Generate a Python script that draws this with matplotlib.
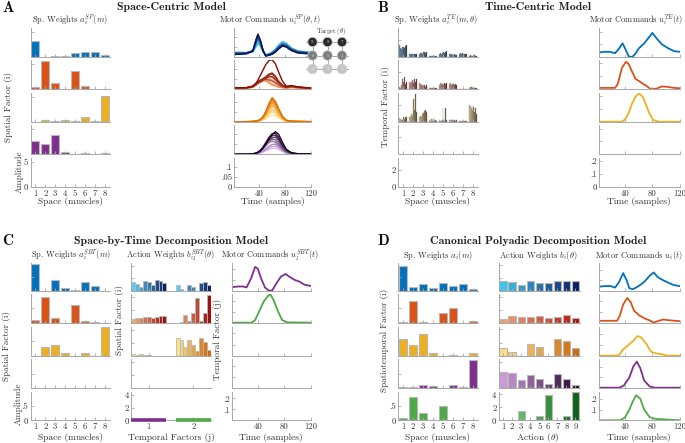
import numpy as np
import matplotlib
matplotlib.use('Agg')
import matplotlib.pyplot as plt
from matplotlib.colors import to_rgb
from matplotlib.patches import Circle

# ---------------- data ----------------
muscles = [1, 2, 3, 4, 5, 6, 7, 8]
actions = [1, 2, 3, 4, 5, 6, 7, 8, 9]
time_ticks = [40, 80, 120]

# Panel A: spatial weights (4 factors x 8 muscles)
spA = [[3.2, 0.0, 0.15, 0.3, 0.8, 1.1, 1.0, 0.5],
       [0.5, 5.6, 1.3, 0.0, 3.7, 0.6, 0.05, 0.05],
       [0.0, 0.3, 0.05, 0.3, 0.1, 0.9, 0.2, 5.1],
       [2.7, 2.0, 3.9, 0.5, 0.05, 0.2, 0.1, 0.2]]

# Panel A: motor commands per target (9 targets per factor)
tA = [1, 20, 30, 35, 38, 42, 46, 50, 55, 60, 65, 70, 76, 82, 90, 100, 120]
uA1 = [[0.02, 0.02, 0.025, 0.05, 0.065, 0.05, 0.025, 0.012, 0.015, 0.025, 0.04, 0.06, 0.078, 0.07, 0.045, 0.03, 0.025],
       [0.02, 0.02, 0.025, 0.055, 0.075, 0.055, 0.025, 0.012, 0.015, 0.025, 0.038, 0.058, 0.075, 0.068, 0.045, 0.03, 0.022],
       [0.025, 0.022, 0.03, 0.06, 0.085, 0.06, 0.028, 0.01, 0.015, 0.022, 0.035, 0.055, 0.07, 0.065, 0.042, 0.028, 0.022],
       [0.02, 0.022, 0.03, 0.065, 0.09, 0.065, 0.03, 0.01, 0.014, 0.022, 0.035, 0.052, 0.068, 0.062, 0.042, 0.028, 0.02],
       [0.02, 0.02, 0.03, 0.07, 0.098, 0.07, 0.03, 0.008, 0.012, 0.02, 0.032, 0.05, 0.065, 0.06, 0.04, 0.026, 0.02],
       [0.018, 0.02, 0.03, 0.075, 0.103, 0.072, 0.03, 0.008, 0.012, 0.018, 0.03, 0.048, 0.062, 0.056, 0.038, 0.025, 0.018],
       [0.015, 0.018, 0.03, 0.08, 0.108, 0.075, 0.03, 0.006, 0.01, 0.016, 0.028, 0.045, 0.06, 0.054, 0.036, 0.024, 0.018],
       [0.015, 0.018, 0.032, 0.085, 0.112, 0.08, 0.032, 0.006, 0.01, 0.015, 0.026, 0.042, 0.058, 0.052, 0.034, 0.022, 0.016],
       [0.012, 0.016, 0.03, 0.088, 0.115, 0.08, 0.03, 0.005, 0.008, 0.014, 0.024, 0.04, 0.055, 0.05, 0.032, 0.02, 0.015]]
uA2 = [[0.005, 0.005, 0.01, 0.02, 0.03, 0.04, 0.045, 0.04, 0.03, 0.02, 0.015, 0.01, 0.008, 0.006, 0.008, 0.006, 0.003],
       [0.005, 0.005, 0.012, 0.025, 0.035, 0.045, 0.05, 0.045, 0.035, 0.025, 0.018, 0.012, 0.008, 0.006, 0.01, 0.007, 0.003],
       [0.005, 0.006, 0.01, 0.02, 0.028, 0.035, 0.04, 0.045, 0.05, 0.045, 0.035, 0.022, 0.012, 0.008, 0.012, 0.008, 0.004],
       [0.006, 0.006, 0.012, 0.022, 0.03, 0.038, 0.045, 0.055, 0.065, 0.06, 0.045, 0.028, 0.014, 0.008, 0.012, 0.008, 0.004],
       [0.006, 0.007, 0.015, 0.028, 0.035, 0.042, 0.048, 0.05, 0.045, 0.04, 0.03, 0.02, 0.012, 0.01, 0.014, 0.01, 0.005],
       [0.006, 0.007, 0.013, 0.025, 0.032, 0.04, 0.05, 0.06, 0.075, 0.08, 0.065, 0.04, 0.02, 0.01, 0.015, 0.01, 0.005],
       [0.007, 0.008, 0.014, 0.024, 0.03, 0.037, 0.045, 0.052, 0.06, 0.062, 0.05, 0.032, 0.016, 0.01, 0.014, 0.01, 0.005],
       [0.007, 0.008, 0.015, 0.03, 0.038, 0.045, 0.052, 0.06, 0.07, 0.075, 0.06, 0.038, 0.02, 0.012, 0.016, 0.011, 0.006],
       [0.008, 0.008, 0.015, 0.03, 0.045, 0.07, 0.095, 0.12, 0.14, 0.145, 0.125, 0.085, 0.04, 0.015, 0.018, 0.012, 0.006]]
uA3 = [[0, 0, 0, 0.001, 0.002, 0.004, 0.008, 0.015, 0.026, 0.035, 0.03, 0.019, 0.008, 0.002, 0.001, 0, 0],
       [0, 0, 0, 0.002, 0.003, 0.005, 0.011, 0.021, 0.038, 0.05, 0.043, 0.028, 0.011, 0.003, 0.001, 0, 0],
       [0, 0, 0.001, 0.002, 0.003, 0.006, 0.013, 0.025, 0.045, 0.06, 0.051, 0.033, 0.013, 0.004, 0.001, 0.001, 0],
       [0, 0, 0.001, 0.002, 0.004, 0.008, 0.017, 0.032, 0.056, 0.075, 0.064, 0.041, 0.017, 0.005, 0.002, 0.001, 0],
       [0, 0, 0.001, 0.003, 0.004, 0.009, 0.019, 0.036, 0.064, 0.085, 0.072, 0.047, 0.019, 0.005, 0.002, 0.001, 0],
       [0, 0, 0.001, 0.003, 0.005, 0.01, 0.021, 0.04, 0.071, 0.095, 0.081, 0.052, 0.021, 0.006, 0.002, 0.001, 0],
       [0, 0, 0.001, 0.003, 0.005, 0.011, 0.023, 0.044, 0.079, 0.105, 0.089, 0.058, 0.023, 0.006, 0.002, 0.001, 0],
       [0, 0, 0.001, 0.003, 0.006, 0.011, 0.025, 0.047, 0.084, 0.112, 0.095, 0.062, 0.025, 0.007, 0.002, 0.001, 0],
       [0, 0, 0.001, 0.004, 0.006, 0.012, 0.026, 0.05, 0.09, 0.12, 0.102, 0.066, 0.026, 0.007, 0.002, 0.001, 0]]
uA4 = [[0, 0, 0.001, 0.002, 0.003, 0.006, 0.011, 0.017, 0.024, 0.029, 0.03, 0.024, 0.014, 0.006, 0.002, 0.001, 0],
       [0, 0, 0.001, 0.002, 0.004, 0.008, 0.014, 0.022, 0.032, 0.039, 0.04, 0.032, 0.018, 0.008, 0.002, 0.001, 0],
       [0, 0, 0.001, 0.003, 0.005, 0.01, 0.018, 0.028, 0.04, 0.049, 0.05, 0.04, 0.023, 0.01, 0.003, 0.001, 0],
       [0, 0, 0.002, 0.005, 0.008, 0.016, 0.028, 0.042, 0.058, 0.065, 0.06, 0.045, 0.025, 0.01, 0.004, 0.001, 0],
       [0, 0, 0.002, 0.006, 0.01, 0.02, 0.034, 0.05, 0.066, 0.075, 0.072, 0.055, 0.03, 0.013, 0.004, 0.002, 0.001],
       [0, 0, 0.002, 0.005, 0.009, 0.017, 0.03, 0.047, 0.068, 0.082, 0.085, 0.068, 0.038, 0.017, 0.005, 0.002, 0.001],
       [0, 0, 0.002, 0.006, 0.01, 0.019, 0.033, 0.052, 0.076, 0.092, 0.095, 0.076, 0.043, 0.019, 0.006, 0.002, 0.001],
       [0, 0, 0.002, 0.006, 0.011, 0.021, 0.037, 0.058, 0.084, 0.102, 0.105, 0.084, 0.047, 0.021, 0.006, 0.002, 0.001],
       [0, 0, 0.002, 0.005, 0.009, 0.018, 0.032, 0.05, 0.075, 0.098, 0.112, 0.1, 0.06, 0.025, 0.008, 0.003, 0.001]]

# Panel B: spatial weights per target (3 factors x 8 muscles x 9 targets)
spB = [[[1.4, 1.1, 1.0, 1.2, 1.1, 1.2, 1.1, 1.3, 1.4], [0.3, 0.35, 0.3, 0.35, 0.3, 0.35, 0.4, 0.35, 0.4],
        [0.4, 0.45, 0.5, 0.4, 0.5, 0.55, 0.6, 0.5, 0.6], [0.1, 0.12, 0.1, 0.1, 0.08, 0.1, 0.12, 0.1, 0.1],
        [0.4, 0.45, 0.35, 0.5, 0.45, 0.6, 0.5, 0.55, 0.7], [0.3, 0.35, 0.3, 0.25, 0.3, 0.25, 0.3, 0.25, 0.2],
        [0.4, 0.45, 0.4, 0.45, 0.4, 0.35, 0.3, 0.35, 0.3], [0.15, 0.2, 0.1, 0.15, 0.1, 0.15, 0.2, 0.15, 0.1]],
       [[0.3, 0.2, 0.5, 1.2, 0.4, 0.9, 1.4, 0.6, 0.8], [0.8, 0.7, 0.9, 1.1, 1.0, 0.7, 1.2, 0.9, 1.2],
        [0.7, 0.6, 0.5, 0.5, 0.6, 0.4, 0.5, 0.3, 0.5], [0.2, 0.1, 0.15, 0.2, 0.1, 0.15, 0.1, 0.2, 0.1],
        [0.5, 0.7, 0.6, 0.6, 0.7, 0.5, 0.7, 0.6, 0.7], [0.6, 0.7, 0.5, 0.6, 0.7, 0.6, 0.5, 0.6, 0.5],
        [0.05, 0.05, 0.05, 0.05, 0.05, 0.05, 0.05, 0.05, 0.05], [0.2, 0.3, 0.3, 0.2, 0.3, 0.2, 0.2, 0.1, 0.1]],
       [[0.4, 0.3, 0.2, 0.2, 0.3, 0.5, 0.3, 0.5, 0.6], [0.5, 0.6, 0.9, 0.7, 1.0, 2.7, 1.4, 3.3, 1.2],
        [0.6, 0.7, 0.5, 0.9, 1.2, 1.0, 1.3, 1.4, 1.2], [0.2, 0.1, 0.3, 0.1, 0.2, 0.3, 0.1, 0.2, 0.1],
        [0.2, 0.1, 0.1, 0.2, 1.6, 0.2, 0.1, 1.6, 0.2], [0.2, 0.15, 0.2, 0.15, 0.2, 0.15, 0.2, 0.1, 0.15],
        [0.05, 0.05, 0.05, 0.05, 0.05, 0.05, 0.05, 0.05, 0.05], [2.0, 1.9, 1.6, 1.4, 2.0, 1.7, 1.2, 1.6, 0.9]]]

# Panel B: temporal factors
tB1 = [1, 9, 17, 25, 31, 36, 41, 45, 50, 54, 60, 68, 76, 80, 86, 94, 102, 112, 120]
uB1 = [0.035, 0.041, 0.041, 0.03, 0.068, 0.108, 0.054, 0.005, 0.0, 0.019, 0.068, 0.108, 0.163, 0.19, 0.149, 0.1, 0.073, 0.046, 0.041]
tB2 = [1, 14, 25, 29, 35, 41, 45, 50, 55, 63, 71, 78, 86, 94, 102, 112, 120]
uB2 = [0.011, 0.011, 0.011, 0.041, 0.163, 0.211, 0.195, 0.136, 0.081, 0.054, 0.027, 0.0, 0.005, 0.022, 0.019, 0.011, 0.008]
tB3 = [1, 35, 40, 45, 50, 55, 60, 66, 71, 76, 81, 89, 120]
uB3 = [0, 0, 0.019, 0.068, 0.141, 0.195, 0.222, 0.195, 0.127, 0.06, 0.014, 0, 0]

# Panel C: space-by-time
spC = [[0.96, 0.0, 0.39, 0.1, 0.02, 0.32, 0.18, 0.0],
       [0.09, 0.89, 0.18, 0.0, 0.62, 0.05, 0.02, 0.0],
       [0.0, 0.3, 0.38, 0.08, 0.0, 0.1, 0.0, 1.0]]
temporal_factors = [1, 2]
actC = [[[1.38, 1.13, 0.6, 1.5, 1.38, 0.97, 1.8, 1.6, 1.28], [0.87, 0.25, 0.0, 0.97, 0.67, 0.0, 1.18, 1.33, 0.97]],
        [[0.56, 0.77, 0.72, 0.82, 0.82, 0.72, 0.92, 1.08, 1.08], [0.0, 0.15, 1.28, 0.26, 1.54, 3.85, 0.26, 1.54, 4.36]],
        [[0.2, 0.1, 0.26, 0.1, 0.05, 0.0, 0.0, 0.0, 0.0], [2.7, 2.5, 1.3, 2.4, 1.6, 0.7, 2.8, 2.15, 0.9]]]
tC1 = [1, 10, 18, 23, 30, 36, 40, 45, 51, 57, 62, 67, 75, 82, 88, 96, 103, 111, 120]
uC1 = [0.033, 0.039, 0.039, 0.03, 0.115, 0.221, 0.206, 0.115, 0.03, 0.0, 0.003, 0.055, 0.13, 0.155, 0.13, 0.1, 0.085, 0.055, 0.045]
tC2 = [1, 31, 36, 42, 49, 56, 59, 64, 71, 77, 85, 120]
uC2 = [0, 0, 0.024, 0.1, 0.191, 0.245, 0.258, 0.206, 0.1, 0.024, 0.003, 0]

# Panel D: canonical polyadic decomposition
spD = [[0.88, 0.14, 0.23, 0.08, 0.27, 0.16, 0.25, 0.07],
       [0.02, 0.74, 0.02, 0.0, 0.34, 0.52, 0.0, 0.05],
       [0.57, 0.37, 0.75, 0.1, 0.0, 0.03, 0.0, 0.1],
       [0.02, 0.03, 0.08, 0.06, 0.0, 0.08, 0.02, 0.97],
       [0.08, 0.8, 0.24, 0.0, 0.51, 0.02, 0.01, 0.02]]
actD = [[1.59, 1.38, 0.97, 1.49, 1.28, 1.18, 1.54, 1.54, 1.49],
        [0.62, 1.08, 0.82, 0.82, 0.97, 0.67, 0.82, 1.18, 0.77],
        [1.23, 0.56, 0.0, 1.8, 1.28, 0.0, 2.5, 2.3, 1.18],
        [2.36, 2.26, 1.18, 1.95, 1.28, 0.56, 2.1, 1.28, 0.46],
        [0.0, 0.1, 1.38, 0.0, 0.6, 3.9, 0.0, 0.6, 4.3]]
tD1 = [2, 11, 18, 25, 31, 37, 42, 46, 51, 56, 62, 68, 76, 82, 88, 96, 103, 111, 120]
uD1 = [0.039, 0.045, 0.045, 0.03, 0.085, 0.17, 0.1, 0.024, 0.015, 0.03, 0.055, 0.085, 0.145, 0.176, 0.13, 0.1, 0.079, 0.055, 0.045]
tD2 = [2, 16, 28, 32, 37, 43, 48, 53, 61, 68, 76, 82, 88, 96, 103, 113, 120]
uD2 = [0.018, 0.018, 0.018, 0.067, 0.173, 0.233, 0.194, 0.112, 0.067, 0.042, 0.021, 0.0, 0.015, 0.03, 0.024, 0.018, 0.015]
tD3 = [2, 26, 31, 36, 43, 51, 58, 63, 71, 78, 86, 93, 103, 120]
uD3 = [0, 0, 0.006, 0.052, 0.091, 0.133, 0.182, 0.173, 0.112, 0.036, 0.021, 0.015, 0, 0]
tD4 = [2, 31, 38, 46, 52, 57, 62, 68, 76, 83, 120]
uD4 = [0, 0, 0.021, 0.097, 0.203, 0.248, 0.188, 0.067, 0.012, 0, 0]
tD5 = [2, 33, 40, 46, 51, 56, 62, 68, 76, 83, 96, 120]
uD5 = [0, 0, 0.03, 0.1, 0.176, 0.236, 0.206, 0.1, 0.03, 0.015, 0.009, 0]

# ---------------- style ----------------
plt.rcParams.update({
    'font.family': 'cmr10',
    'mathtext.fontset': 'cm',
    'axes.formatter.use_mathtext': True,
    'font.size': 6.5,
    'axes.linewidth': 0.7,
    'axes.edgecolor': '#a8a8a8',
    'xtick.color': '#a8a8a8', 'ytick.color': '#a8a8a8',
    'xtick.labelcolor': '#333333', 'ytick.labelcolor': '#333333',
    'xtick.direction': 'in', 'ytick.direction': 'in',
    'xtick.major.size': 2, 'ytick.major.size': 2,
    'xtick.major.width': 0.6, 'ytick.major.width': 0.6,
    'xtick.major.pad': 2, 'ytick.major.pad': 1.5,
    'xtick.labelsize': 6.3, 'ytick.labelsize': 6.3,
    'text.color': '#333333',
})

W, H = 685, 443
fig = plt.figure(figsize=(W / 100, H / 100), dpi=100)

BLUE, RED, YEL, PUR, GRN = '#0072BD', '#D95319', '#EDB120', '#7E2F8E', '#4DAA45'
EDGE = '#b8b8b8'


def grad(c0, c1, n):
    a, b = np.array(to_rgb(c0)), np.array(to_rgb(c1))
    return [tuple(a + (b - a) * k / (n - 1)) for k in range(n)]


def axp(x0, y0, x1, y1):
    ax = fig.add_axes([x0 / W, 1 - y1 / H, (x1 - x0) / W, (y1 - y0) / H])
    ax.spines['top'].set_visible(False)
    ax.spines['right'].set_visible(False)
    ax.patch.set_alpha(0)
    return ax


def txt(x, y, s, **kw):
    kw.setdefault('ha', 'center')
    kw.setdefault('va', 'center')
    fig.text(x / W, 1 - y / H, s, **kw)


def column(x0, x1, rows, xlim, ylim, yticks, ylabs, xticks, xlabs):
    axs = []
    for i, (y0, y1) in enumerate(rows):
        ax = axp(x0, y0, x1, y1)
        ax.set_xlim(*xlim)
        ax.set_ylim(*ylim)
        ax.set_yticks(yticks)
        ax.set_xticks(xticks)
        if i == len(rows) - 1:
            ax.set_yticklabels(ylabs)
            ax.set_xticklabels(xlabs)
        else:
            ax.set_yticklabels([])
            ax.set_xticklabels([])
        axs.append(ax)
    return axs


ROWS_T = [(28.5, 57), (60, 89.3), (93, 121.7), (125.5, 154.3), (158, 186.7)]
ROWS_B = [(262.7, 290.7), (294, 322.7), (326.7, 355.7), (359.3, 387.7), (391.7, 420.3)]
TL = [str(v) for v in time_ticks]
ML = [str(v) for v in muscles]

TITLE = dict(family='cmb10', fontsize=8.5, color='#222222')
LET = dict(family='cmb10', fontsize=11, color='#111111')
SUB = dict(fontsize=6.1)
XL = dict(fontsize=6.8)
YL = dict(rotation=90, fontsize=6.6)

# ================= Panel A =================
txt(8, 8, 'A', **LET)
txt(171, 7.5, 'Space-Centric Model', **TITLE)
txt(70, 20.5, r'Sp. Weights $a_i^{SP}(m)$', **SUB)
txt(270, 20, r'Motor Commands $u_i^{SP}(\theta,t)$', **SUB)
axA1 = column(30.5, 109.5, ROWS_T, (0.5, 8.5), (0, 5.8), [0, 5], ['0', '5'], muscles, ML)
colsA = [BLUE, RED, YEL, PUR]
for i in range(4):
    axA1[i].bar(muscles, spA[i], width=0.8, color=colsA[i], edgecolor=EDGE, linewidth=0.8)
axA2 = column(234.2, 310.7, ROWS_T, (1, 120), (0, 0.143), [0, 0.05, 0.1], ['0', '.05', '.1'], time_ticks, TL)
gradsA = [grad('#62D2F7', '#0A165C', 9), grad('#F8A96C', '#8A0C04', 9),
          grad('#FFE48C', '#E07400', 9), grad('#E3B8EF', '#1A0428', 9)]
for i, U in enumerate([uA1, uA2, uA3, uA4]):
    for k, u in enumerate(U):
        axA2[i].plot(tA, u, color=gradsA[i][k], lw=1.0)
txt(8.5, 107, 'Spatial Factor (i)', **YL)
txt(20, 172, 'Amplitude', **YL)
txt(70, 202, 'Space (muscles)', **XL)
txt(272.5, 202, 'Time (samples)', **XL)

# target grid
axg = fig.add_axes([300 / W, 1 - 76 / H, 50 / W, 46 / H])
axg.set_xlim(300, 350)
axg.set_ylim(76, 30)
axg.axis('off')
gx = [312.5, 327.5, 342.0]
gy = [42.0, 55.5, 69.0]
gcol = ['#2a2a2a', '#7c7c7c', '#c4c4c4']
gnum = [['9', '8', '7'], ['6', '5', '4'], ['3', '2', '1']]
for r in range(3):
    axg.plot([306, 348], [gy[r], gy[r]], color='#9a9a9a', lw=0.6, zorder=1)
for c in range(3):
    axg.plot([gx[c], gx[c]], [gy[0], gy[2]], color='#9a9a9a', lw=0.6, zorder=1)
for r in range(3):
    for c in range(3):
        axg.add_patch(Circle((gx[c], gy[r]), 4.8, facecolor=gcol[r], edgecolor='#d0d0d0', lw=0.6, zorder=2))
        axg.text(gx[c], gy[r], gnum[r][c], ha='center', va='center', fontsize=3.5,
                 color='#dddddd' if r < 2 else '#f4f4f4', zorder=3)
txt(331, 31.5, r'Target ($\theta$)', fontsize=4.6)

# ================= Panel B =================
txt(383, 8, 'B', **LET)
txt(538.5, 7.5, 'Time-Centric Model', **TITLE)
txt(436.5, 20.5, r'Sp. Weights $a_i^{TE}(m,\theta)$', **SUB)
txt(636, 20.5, r'Motor Commands $u_i^{TE}(t)$', **SUB)
axB1 = column(398, 478, ROWS_T, (0.5, 8.5), (0, 3.4), [0, 2], ['0', '2'], muscles, ML)
gradsB = [grad('#2F7FA6', '#061535', 9), grad('#D98A72', '#4A0505', 9), grad('#D9C78A', '#4A3804', 9)]
bw = 0.094
for i in range(3):
    for m, mus in enumerate(muscles):
        xs = [mus + (k - 4) * bw for k in range(9)]
        axB1[i].bar(xs, spB[i][m], width=bw, color=gradsB[i], edgecolor='#8a8a8a', linewidth=0.25)
axB2 = column(598.8, 679.5, ROWS_T, (1, 120), (0, 0.225), [0, 0.1, 0.2], ['0', '.1', '.2'], time_ticks, TL)
axB2[0].plot(tB1, uB1, color=BLUE, lw=1.3)
axB2[1].plot(tB2, uB2, color=RED, lw=1.3)
axB2[2].plot(tB3, uB3, color=YEL, lw=1.3)
txt(386, 107, 'Temporal Factor (i)', **YL)
txt(437.5, 202, 'Space (muscles)', **XL)
txt(638.5, 202, 'Time (samples)', **XL)

# ================= Panel C =================
txt(8, 241, 'C', **LET)
txt(171.5, 241, 'Space-by-Time Decomposition Model', **TITLE)
txt(71, 255, r'Sp. Weights $a_i^{SBT}(m)$', **SUB)
txt(171, 255, r'Action Weights $b_{ij}^{SBT}(\theta)$', **SUB)
txt(270.5, 255, r'Motor Commands $u_j^{SBT}(t)$', **SUB)
axC1 = column(30.5, 109.5, ROWS_B, (0.5, 8.5), (0, 1.0), [0, 0.5], ['0', '.5'], muscles, ML)
for i in range(3):
    axC1[i].bar(muscles, spC[i], width=0.8, color=colsA[i], edgecolor=EDGE, linewidth=0.8)
axC2 = column(131, 211, ROWS_B, (0.6, 2.4), (0, 4.5), [0, 2, 4], ['0', '2', '4'], temporal_factors, ['1', '2'])
gradsC = [grad('#5CCBF2', '#0C2466', 9), grad('#F2A873', '#A0100E', 9), grad('#F7E38C', '#D0680C', 9)]
cw = 0.088
for i in range(3):
    for j, jj in enumerate(temporal_factors):
        xs = [jj + (k - 4) * cw for k in range(9)]
        axC2[i].bar(xs, actC[i][j], width=cw, color=gradsC[i], edgecolor=EDGE, linewidth=0.6)
for jj, c in zip(temporal_factors, [PUR, GRN]):
    axC2[4].plot([jj - 4.5 * cw, jj + 4.5 * cw], [0, 0], color=c, lw=2.6, solid_capstyle='butt',
                 clip_on=False, zorder=5)
axC3 = column(232, 310.5, ROWS_B, (1, 120), (0, 0.26), [0.1, 0.2], ['.1', '.2'], time_ticks, TL)
axC3[0].plot(tC1, uC1, color=PUR, lw=1.3)
axC3[1].plot(tC2, uC2, color=GRN, lw=1.3)
txt(6.5, 346, 'Spatial Factor (i)', **YL)
txt(18.5, 404, 'Amplitude', **YL)
txt(119, 320, 'Spatial Factor (i)', **YL)
txt(217, 339, 'Temporal Factor (j)', **YL)
txt(70, 437, 'Space (muscles)', **XL)
txt(171, 437, 'Temporal Factors (j)', **XL)
txt(271, 437, 'Time (samples)', **XL)

# ================= Panel D =================
txt(383.5, 241, 'D', **LET)
txt(538, 241, 'Canonical Polyadic Decomposition Model', **TITLE)
txt(437.5, 255, r'Sp. Weights $a_i(m)$', **SUB)
txt(538.5, 255, r'Action Weights $b_i(\theta)$', **SUB)
txt(638.5, 255, r'Motor Commands $u_i(t)$', **SUB)
axD1 = column(398, 477.5, ROWS_B, (0.5, 8.5), (0, 1.0), [0, 0.5], ['0', '.5'], muscles, ML)
colsD = [BLUE, RED, YEL, PUR, GRN]
for i in range(5):
    axD1[i].bar(muscles, spD[i], width=0.8, color=colsD[i], edgecolor=EDGE, linewidth=0.8)
axD2 = column(498.5, 580, ROWS_B, (0.5, 9.5), (0, 4.4), [0, 2, 4], ['0', '2', '4'], actions, [str(a) for a in actions])
gradsD = [grad('#3FC3EE', '#0A1F6A', 9), grad('#F2A070', '#B8140C', 9), grad('#FBE08A', '#CF6A0A', 9),
          grad('#CC9AD8', '#2A0638', 9), grad('#7ED67A', '#0E6418', 9)]
for i in range(5):
    axD2[i].bar(actions, actD[i], width=0.8, color=gradsD[i], edgecolor=EDGE, linewidth=0.8)
axD3 = column(598.8, 679.5, ROWS_B, (1, 120), (0, 0.27), [0.1, 0.2], ['.1', '.2'], time_ticks, TL)
for i, (t, u) in enumerate([(tD1, uD1), (tD2, uD2), (tD3, uD3), (tD4, uD4), (tD5, uD5)]):
    axD3[i].plot(t, u, color=colsD[i], lw=1.3)
txt(384, 340, 'Spatiotemporal Factor (i)', **YL)
txt(437.5, 437, 'Space (muscles)', **XL)
txt(538, 437, r'Action ($\theta$)', **XL)
txt(638.5, 437, 'Time (samples)', **XL)

fig.savefig('out.png', dpi=100)
